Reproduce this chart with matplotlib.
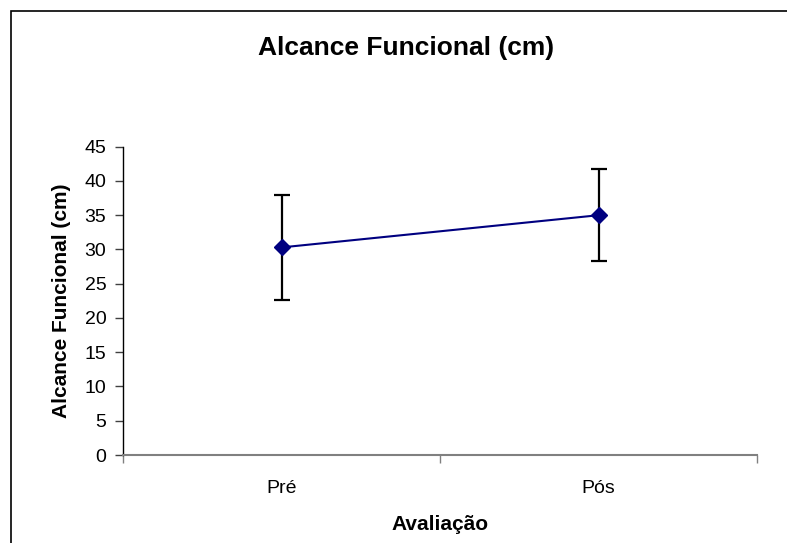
import matplotlib
matplotlib.use("Agg")
import matplotlib.pyplot as plt
from matplotlib.patches import Rectangle

categories = ["Pré", "Pós"]
means = [30.3, 35.0]
errors = [7.7, 6.7]
yticks = [0, 5, 10, 15, 20, 25, 30, 35, 40, 45]

plt.rcParams['font.family'] = ['Liberation Sans', 'DejaVu Sans']

fig = plt.figure(figsize=(7.87, 5.43), dpi=100)
ax = fig.add_axes([123/787, 1-455/543, (757-123)/787, (455-146.7)/543])

x = [1, 2]
ax.errorbar(x, means, yerr=errors, fmt='none', ecolor='black', elinewidth=1.6,
            capsize=6, capthick=1.6, zorder=2)
ax.plot(x, means, color='#000080', linewidth=1.5, marker='D', markersize=8,
        markerfacecolor='#000080', markeredgecolor='#000080', zorder=3)

ax.set_xlim(0.5, 2.5)
ax.set_ylim(0, 45)
ax.set_yticks(yticks)
ax.set_yticklabels([str(v) for v in yticks], fontsize=14)
ax.set_xticks([0.5, 1.5, 2.5])
ax.set_xticklabels([])
ax.set_xticks(x, minor=True)
ax.set_xticklabels(categories, minor=True, fontsize=14)
ax.tick_params(axis='x', which='minor', length=0, pad=18)
ax.tick_params(axis='x', which='major', length=6, color='#808080', width=1)
ax.tick_params(axis='y', length=6, color='#404040', width=1, pad=6)

for s in ['top', 'right']:
    ax.spines[s].set_visible(False)
ax.spines['left'].set_color('black')
ax.spines['left'].set_linewidth(1.0)
ax.spines['bottom'].set_color('#808080')
ax.spines['bottom'].set_linewidth(1.5)

ax.set_xlabel("Avaliação", fontsize=15, fontweight='bold', labelpad=13)
ax.set_ylabel("Alcance Funcional (cm)", fontsize=15, fontweight='bold', labelpad=10)

fig.text(406/787, 1-48/543, "Alcance Funcional (cm)", fontsize=19, fontweight='bold',
         ha='center', va='center')

fig.patches.append(Rectangle((11/787, -0.05), 1.2, 1-11/543+0.05, transform=fig.transFigure,
                             fill=False, edgecolor='black', linewidth=1.2))

fig.savefig("out.png", dpi=100)
